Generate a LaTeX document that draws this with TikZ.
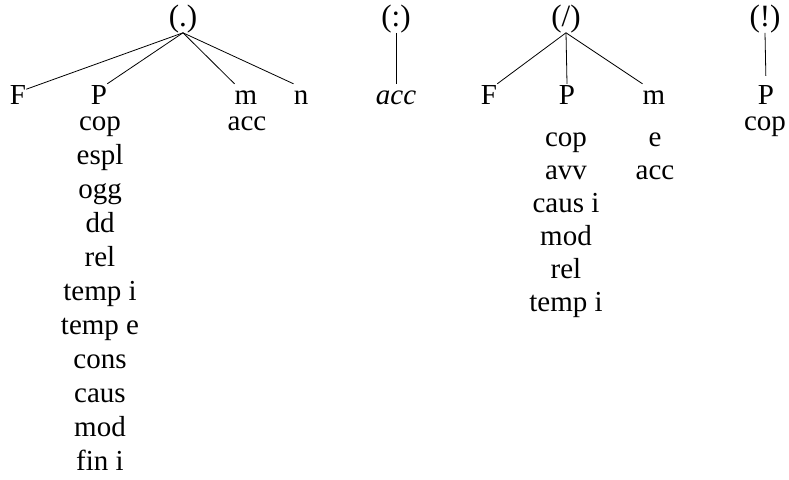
\documentclass[tikz,border=0pt]{standalone}
\usepackage{fontspec}
\setmainfont{Liberation Serif}
\begin{document}
\begin{tikzpicture}[x=1pt,y=-1pt,
  lab/.style={inner sep=0pt, anchor=base, font=\fontsize{29}{34}\selectfont},
  kid/.style={lab, text height=20pt, text depth=0pt},
  rt/.style={lab, font=\fontsize{31}{34}\selectfont},
  edge/.style={line width=0.8pt}]
\useasboundingbox (0,0) rectangle (789,479);
% tree 1
\node[rt] (r1) at (183,26) {(.)};
\node[kid] (F1) at (18,104) {F};
\node[kid] (P1) at (99,104) {P};
\node[kid] (m1) at (246,104) {m};
\node[kid] (n1) at (301,104) {n};
\draw[edge] (r1.south) -- (F1.30);
\draw[edge] (r1.south) -- (P1.north east);
\draw[edge] (r1.south) -- (m1.north west);
\draw[edge] (r1.south) -- (n1.north west);
\foreach \t [count=\i] in {cop,espl,ogg,dd,rel,temp i,temp e,cons,caus,mod,fin i}
  \node[lab] (a\i) at (100,{130+34*(\i-1)}) {\t};
\node[lab] (macc) at (247,130) {acc};
% tree 2
\node[rt] (r2) at (396,26) {(:)};
\node[kid,font=\fontsize{29}{34}\selectfont\itshape] (acc2) at (396,104) {acc};
\draw[edge] (r2.south) -- (acc2.north);
% tree 3
\node[rt] (r3) at (566,26) {(/)};
\node[kid] (F3) at (489,104) {F};
\node[kid] (P3) at (567,104) {P};
\node[kid] (m3) at (654,104) {m};
\draw[edge] (r3.south) -- (F3.north east);
\draw[edge] (r3.south) -- (P3.north);
\draw[edge] (r3.south) -- (m3.north west);
\foreach \t [count=\i] in {cop,avv,caus i,mod,rel,temp i}
  \node[lab] (b\i) at (566,{146+33*(\i-1)}) {\t};
\node[lab] (me) at (655,146) {e};
\node[lab] (macc3) at (655,179) {acc};
% tree 4
\node[rt] (r4) at (765,26) {(!)};
\node[kid] (P4) at (766,104) {P};
\node[lab] (cop4) at (765,130) {cop};
\draw[edge, shorten >=8pt] (r4.south) -- (P4.north);
\end{tikzpicture}
\end{document}
